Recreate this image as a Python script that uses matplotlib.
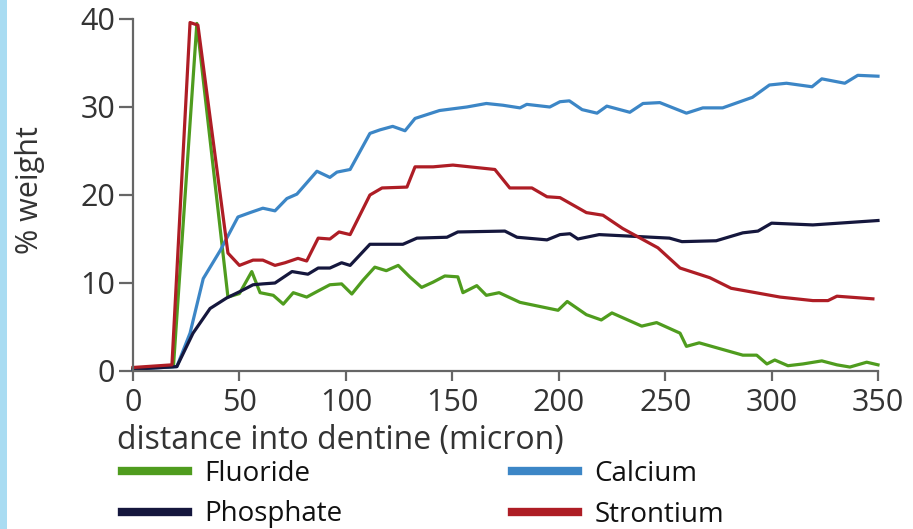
import matplotlib
matplotlib.use("Agg")
import matplotlib.pyplot as plt
from matplotlib.patches import Rectangle

# values (distance in micron, % weight)
fluoride_x = [0, 19, 30, 44.6, 50, 55.8, 59.7, 65.9, 70.6, 75.3, 81.6, 87, 92.5, 98, 102.8,
              108, 113.6, 119, 124.6, 130, 135.6, 141, 146.5, 152.6, 155, 161.5, 166, 172,
              181.8, 199.7, 204, 213, 220, 225, 239, 246, 257, 260, 266, 286.5, 293, 297.8,
              301.5, 307.7, 314.7, 323.6, 330.7, 336.8, 344.7, 350]
fluoride_y = [0.3, 0.5, 39.5, 8.4, 8.8, 11.3, 8.9, 8.6, 7.6, 8.9, 8.4, 9.1, 9.8, 9.9, 8.75,
              10.3, 11.8, 11.4, 12.0, 10.7, 9.5, 10.1, 10.8, 10.7, 8.9, 9.7, 8.6, 8.9,
              7.8, 6.9, 7.9, 6.4, 5.8, 6.6, 5.1, 5.5, 4.3, 2.8, 3.2, 1.8, 1.8, 0.8,
              1.25, 0.6, 0.8, 1.15, 0.7, 0.45, 1.0, 0.7]

calcium_x = [0, 20.6, 26.8, 33, 41, 49.3, 55, 61, 66.7, 72.3, 77, 86.4, 92.5, 95.8, 102,
             111.3, 116, 122, 127.8, 132.5, 144, 156.8, 166, 173.8, 181.8, 185, 195.8, 200.6,
             205, 211, 218, 222.6, 233.4, 239.6, 247.5, 260, 267.7, 277, 291, 299, 307,
             319, 323.6, 334.4, 340.5, 350]
calcium_y = [0.2, 0.5, 4.3, 10.5, 13.7, 17.5, 18.0, 18.5, 18.2, 19.6, 20.1, 22.7, 22.0, 22.6, 22.9,
             27.0, 27.4, 27.8, 27.3, 28.7, 29.6, 30.0, 30.4, 30.2, 29.9, 30.3, 30.0, 30.6,
             30.7, 29.7, 29.3, 30.1, 29.4, 30.4, 30.5, 29.3, 29.9, 29.9, 31.1, 32.5, 32.7,
             32.3, 33.2, 32.7, 33.6, 33.5]

phosphate_x = [0, 20.6, 28.2, 36.2, 44, 50, 56.4, 61, 66.7, 74.7, 82.2, 87, 92.5, 98, 102,
               111.3, 126.8, 133.4, 147.5, 152.6, 174.7, 180.4, 194.5, 200.6, 205.3, 209, 219,
               252, 257.9, 274, 286.5, 293.6, 300, 319.4, 350]
phosphate_y = [0.2, 0.5, 4.3, 7.1, 8.3, 9.0, 9.8, 9.9, 10.0, 11.3, 11.0, 11.7, 11.7, 12.3, 12.0,
               14.4, 14.4, 15.1, 15.2, 15.8, 15.9, 15.2, 14.9, 15.5, 15.6, 15.0, 15.5,
               15.1, 14.7, 14.8, 15.7, 15.9, 16.8, 16.6, 17.1]

strontium_x = [0, 18.3, 26.8, 30.5, 44.6, 50, 56.4, 61, 66.7, 71.4, 77.5, 81.6, 87, 92.5, 96.8,
               102, 111.3, 117, 128.7, 132.5, 141, 150.3, 170, 177, 187.4, 194.5, 200.6, 213,
               220.8, 230, 246.6, 257, 271, 281, 304, 319.4, 326.5, 330.7, 347.6]
strontium_y = [0.4, 0.7, 39.6, 39.3, 13.4, 12.0, 12.6, 12.6, 12.0, 12.3, 12.8, 12.5, 15.1, 15.0, 15.8,
               15.5, 20.0, 20.8, 20.9, 23.2, 23.2, 23.4, 22.9, 20.8, 20.8, 19.8, 19.7, 18.0,
               17.7, 16.2, 14.0, 11.7, 10.6, 9.4, 8.4, 8.0, 8.0, 8.5, 8.2]

x_ticks = [0, 50, 100, 150, 200, 250, 300, 350]
y_ticks = [0, 10, 20, 30, 40]

green = "#4f9c1e"
blue = "#3c86c6"
navy = "#15173d"
red = "#ae1d25"
grey = "#666666"
text_col = "#333333"
fs = 22

plt.rcParams['font.family'] = ['Open Sans', 'DejaVu Sans']

W, H = 913, 529
fig = plt.figure(figsize=(W / 100, H / 100), dpi=100)
fig.patch.set_facecolor("white")
# light blue strip at the left edge of the page
fig.patches.append(Rectangle((0, 0), 0.0075, 1, transform=fig.transFigure,
                             facecolor="#a9dcf2", edgecolor="none"))

ax = fig.add_axes([133 / W, 1 - 371 / H, 745 / W, 352 / H])

lw = 2.3
l_f, = ax.plot(fluoride_x, fluoride_y, color=green, lw=lw, clip_on=False, label="Fluoride")
l_c, = ax.plot(calcium_x, calcium_y, color=blue, lw=lw, clip_on=False, label="Calcium")
l_p, = ax.plot(phosphate_x, phosphate_y, color=navy, lw=lw, clip_on=False, label="Phosphate")
l_s, = ax.plot(strontium_x, strontium_y, color=red, lw=lw, clip_on=False, label="Strontium")

ax.set_xlim(0, 350)
ax.set_ylim(0, 40)
ax.set_xticks(x_ticks)
ax.set_yticks(y_ticks)
for s in ["top", "right"]:
    ax.spines[s].set_visible(False)
for s in ["left", "bottom"]:
    ax.spines[s].set_color(grey)
    ax.spines[s].set_linewidth(1.6)
ax.tick_params(colors=grey, width=1.6, labelsize=fs, labelcolor=text_col)
ax.tick_params(axis="x", length=7.5, pad=5)
ax.tick_params(axis="y", length=10, pad=3)

fig.text(30 / W, 1 - 190 / H, "% weight", fontsize=fs, color=text_col,
         rotation=90, ha="center", va="center")
fig.text(117 / W, 1 - 441 / H, "distance into dentine (micron)", fontsize=fs + 1,
         color=text_col, va="center", ha="left")

leg = fig.legend(handles=[l_f, l_p, l_c, l_s], ncol=2, loc="upper left",
                 bbox_to_anchor=(122 / W, 1 - 460 / H), frameon=False,
                 fontsize=20, handlelength=2.37, handletextpad=0.6,
                 columnspacing=6.1, labelspacing=0.45, borderpad=0, borderaxespad=0)
for h in leg.legend_handles:
    h.set_linewidth(6)
for t in leg.get_texts():
    t.set_color("#111111")

fig.savefig("out.png", dpi=100)
